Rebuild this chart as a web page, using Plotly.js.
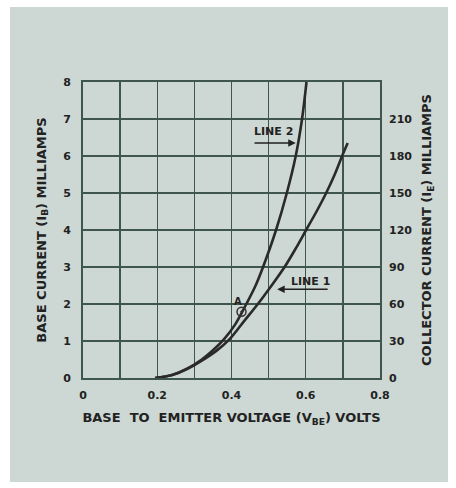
<!DOCTYPE html>
<html>
<head>
<meta charset="utf-8">
<script src="https://cdn.plot.ly/plotly-3.0.1.min.js"></script>
<style>
html,body{margin:0;padding:0;background:#ffffff;}
#chart{position:absolute;left:10px;top:7px;width:438px;height:475px;}
</style>
</head>
<body>
<div id="chart"></div>
<script>
// Line 1: base-emitter voltage (V) vs base current (mA)
var line1V  = [0.194, 0.24, 0.28, 0.32, 0.36, 0.395, 0.435, 0.471, 0.508, 0.543, 0.573, 0.601, 0.629, 0.655, 0.678, 0.698, 0.713];
var line1IB = [0,     0.08, 0.24, 0.47, 0.74, 1.05,  1.55,  2.0,   2.5,   3.0,   3.5,   4.0,   4.5,   5.0,   5.5,   6.0,   6.35];
// Line 2
var line2V  = [0.194, 0.24, 0.28, 0.32, 0.35, 0.38, 0.41, 0.44, 0.465, 0.485, 0.52, 0.549, 0.573, 0.590, 0.602];
var line2IB = [0,     0.08, 0.25, 0.50, 0.75, 1.05, 1.45, 2.0,  2.5,   3.0,   4.0,  5.0,   6.0,   7.0,   8.0];
// Point A
var pointAV = [0.427];
var pointAIB = [1.79];
// Axis ticks
var xTickVals = [0, 0.1, 0.2, 0.3, 0.4, 0.5, 0.6, 0.7, 0.8];
var xTickText = ['0', '', '0.2', '', '0.4', '', '0.6', '', '0.8'];
var yTickVals = [0, 1, 2, 3, 4, 5, 6, 7, 8];
var y2TickVals = [0, 30, 60, 90, 120, 150, 180, 210];

var ink = '#222222';
var card = '#cdd7d3';
var gridC = '#3e5550';
var fam = 'DejaVu Sans, Liberation Sans, sans-serif';
var tickF = {family: fam, size: 11, color: ink, weight: 'bold'};
var titleF = {family: fam, size: 13, color: ink, weight: 'bold'};

var traces = [
  {x: line1V, y: line1IB, mode: 'lines', line: {color: '#2a2a2a', width: 2.6, shape: 'spline', smoothing: 0.9}, hoverinfo: 'skip', name: 'LINE 1'},
  {x: line2V, y: line2IB, mode: 'lines', line: {color: '#2a2a2a', width: 2.6, shape: 'spline', smoothing: 0.9}, hoverinfo: 'skip', name: 'LINE 2'},
  {x: pointAV, y: pointAIB, mode: 'markers', marker: {symbol: 'circle-open-dot', size: 9, color: '#333', line: {width: 1.5, color: '#333'}}, hoverinfo: 'skip'},
  {x: [], y: [], yaxis: 'y2', mode: 'lines', hoverinfo: 'skip'}
];

var layout = {
  width: 438, height: 475,
  paper_bgcolor: card, plot_bgcolor: card,
  showlegend: false,
  margin: {l: 73, r: 68, t: 75, b: 104},
  font: {family: fam, size: 11, color: ink},
  xaxis: {
    range: [0, 0.8], tickvals: xTickVals, ticktext: xTickText,
    showgrid: true, gridcolor: gridC, gridwidth: 1.3, zeroline: false,
    showline: true, mirror: true, linecolor: gridC, linewidth: 2,
    ticks: '', ticklabelstandoff: 6, tickfont: tickF,
    title: {text: 'BASE  TO  EMITTER VOLTAGE (V<sub>BE</sub>) VOLTS', font: titleF, standoff: 12},
    fixedrange: true
  },
  yaxis: {
    range: [0, 8], tickvals: yTickVals,
    showgrid: true, gridcolor: gridC, gridwidth: 1.3, zeroline: false,
    showline: true, mirror: true, linecolor: gridC, linewidth: 2,
    ticks: '', ticklabelstandoff: 8, tickfont: tickF,
    title: {text: 'BASE CURRENT (I<sub>B</sub>) MILLIAMPS', font: titleF, standoff: 14},
    fixedrange: true
  },
  yaxis2: {
    range: [0, 240], tickvals: y2TickVals, overlaying: 'y', side: 'right',
    showgrid: false, zeroline: false, showline: false,
    ticks: '', ticklabelstandoff: 8, tickfont: tickF,
    title: {text: 'COLLECTOR CURRENT (I<sub>E</sub>) MILLIAMPS', font: titleF, standoff: 10},
    fixedrange: true
  },
  annotations: [
    {x: 0.512, y: 6.66, xref: 'x', yref: 'y', text: 'LINE 2', showarrow: false, font: {family: fam, size: 11, color: ink, weight: 'bold'}},
    {x: 0.573, y: 6.35, ax: 0.458, ay: 6.35, xref: 'x', yref: 'y', axref: 'x', ayref: 'y', text: '', showarrow: true, arrowhead: 2, arrowsize: 1, arrowwidth: 1.5, arrowcolor: ink},
    {x: 0.612, y: 2.62, xref: 'x', yref: 'y', text: 'LINE 1', showarrow: false, font: {family: fam, size: 11, color: ink, weight: 'bold'}},
    {x: 0.523, y: 2.4, ax: 0.663, ay: 2.4, xref: 'x', yref: 'y', axref: 'x', ayref: 'y', text: '', showarrow: true, arrowhead: 2, arrowsize: 1, arrowwidth: 1.5, arrowcolor: ink},
    {x: 0.417, y: 2.08, xref: 'x', yref: 'y', text: 'A', showarrow: false, font: {family: fam, size: 10, color: ink, weight: 'bold'}}
  ]
};

Plotly.newPlot('chart', traces, layout, {displayModeBar: false, staticPlot: true});
</script>
</body>
</html>
